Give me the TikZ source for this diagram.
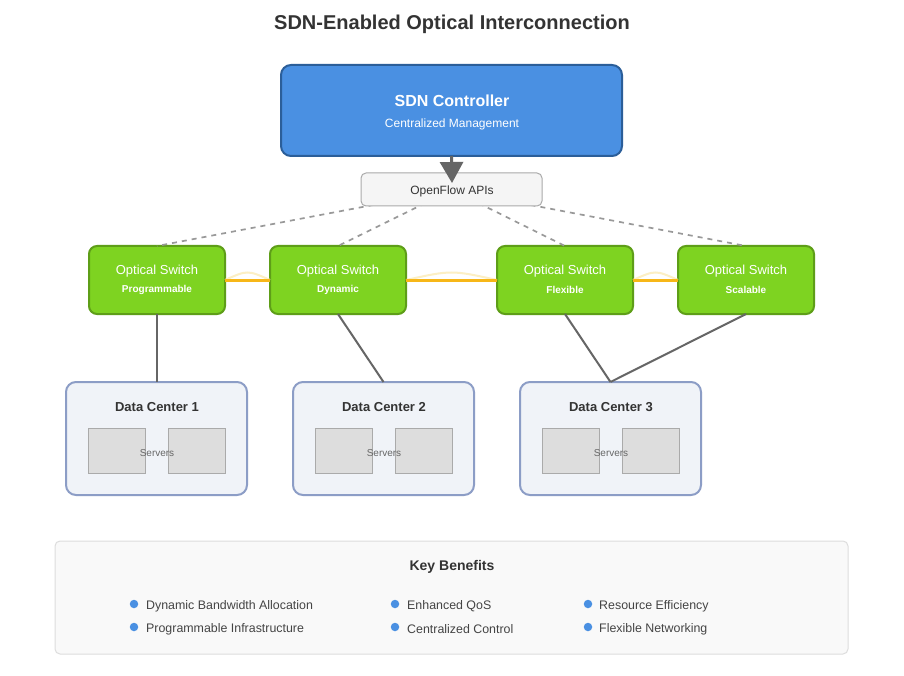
\documentclass[tikz,border=0pt]{standalone}
\usepackage{fontspec}
\setmainfont{Liberation Sans}
\usetikzlibrary{arrows.meta}
\definecolor{ctrlblue}{HTML}{4A90E2}
\definecolor{ctrledge}{HTML}{2B5E99}
\definecolor{swgreen}{HTML}{7ED321}
\definecolor{swedge}{HTML}{5E9E18}
\definecolor{ofill}{HTML}{F5F5F5}
\definecolor{oedge}{HTML}{AAAAAA}
\definecolor{dash}{HTML}{999999}
\definecolor{link}{HTML}{666666}
\definecolor{orangel}{HTML}{F7B718}
\definecolor{glow}{HTML}{FCEFC4}
\definecolor{dcfill}{HTML}{F0F3F8}
\definecolor{dcedge}{HTML}{8C9DC6}
\definecolor{srvfill}{HTML}{DDDDDD}
\definecolor{srvedge}{HTML}{AAAAAA}
\definecolor{kbfill}{HTML}{F9F9F9}
\definecolor{kbedge}{HTML}{DDDDDD}
\definecolor{txt}{HTML}{333333}
\definecolor{itemtxt}{HTML}{444444}
\tikzset{
  box/.style={inner sep=0pt, outer sep=0pt},
  ctrlbox/.style={box, draw=ctrledge, fill=ctrlblue, line width=2pt, rounded corners=10pt, minimum width=341pt, minimum height=91pt},
  apibox/.style={box, draw=oedge, fill=ofill, line width=1pt, rounded corners=5pt, minimum width=181pt, minimum height=33pt},
  swbox/.style={box, draw=swedge, fill=swgreen, line width=2pt, rounded corners=8pt, minimum width=136pt, minimum height=68pt},
  dcbox/.style={box, draw=dcedge, fill=dcfill, line width=2pt, rounded corners=10pt, minimum width=181pt, minimum height=113pt},
  srvbox/.style={box, draw=srvedge, fill=srvfill, line width=1pt, minimum width=57pt, minimum height=45pt},
  kbbox/.style={box, draw=kbedge, fill=kbfill, line width=1pt, rounded corners=5pt, minimum width=793pt, minimum height=113pt},
  lbl/.style={inner sep=0pt, anchor=center, yshift=-1.5pt},
  dashlink/.style={draw=dash, line width=1.7pt, dash pattern=on 5pt off 5pt},
  solidlink/.style={draw=link, line width=2pt},
  optlink/.style={draw=orangel, line width=3pt},
  glowlink/.style={draw=glow, line width=2pt},
  bullet/.style={circle, fill=ctrlblue, inner sep=0pt, minimum size=8.5pt},
  item/.style={inner sep=0pt, anchor=west, yshift=-1.5pt, text=itemtxt, font=\fontsize{12.4}{14}\selectfont},
}
\begin{document}
\begin{tikzpicture}[x=1pt,y=-1pt]
\useasboundingbox (0,0) rectangle (904,676);
\fill[white] (0,0) rectangle (904,676);
% title
\node[lbl, text=txt, font=\bfseries\fontsize{20}{24}\selectfont] (title) at (452,23) {SDN-Enabled Optical Interconnection};
\coordinate (apic) at (452,190);
% switches
\node[swbox] (s1) at (157,280) {};
\node[swbox] (s2) at (338,280) {};
\node[swbox] (s3) at (565,280) {};
\node[swbox] (s4) at (746,280) {};
\draw[dashlink] (apic) -- (s1.north);
\draw[dashlink] (apic) -- (s2.north);
\draw[dashlink] (apic) -- (s3.north);
\draw[dashlink] (apic) -- (s4.north);
% controller
\node[ctrlbox] (sdn) at (451.5,110.5) {};
\node[lbl, text=white, font=\bfseries\fontsize{16}{19}\selectfont] (sdnt) at (452,99) {SDN Controller};
\node[lbl, text=white, font=\fontsize{12}{14}\selectfont] (sdns) at (452,123) {Centralized Management};
% API box
\node[apibox] (api) at (451.5,189.5) {};
\node[lbl, text=txt, font=\fontsize{12}{14}\selectfont] (apit) at (452,190) {OpenFlow APIs};
\coordinate (arrend) at (452,183);
\draw[draw=link, line width=3pt, -{Triangle[width=23pt,length=21pt]}] (sdn.south) -- (arrend);
% optical links
\draw[glowlink] (s1.east) .. controls (247.5,270) .. (s2.west);
\draw[glowlink] (s2.east) .. controls (451.5,270) .. (s3.west);
\draw[glowlink] (s3.east) .. controls (655.5,270) .. (s4.west);
\draw[optlink] (s1.east) -- (s2.west);
\draw[optlink] (s2.east) -- (s3.west);
\draw[optlink] (s3.east) -- (s4.west);
% switch labels
\node[lbl, text=white, font=\fontsize{13}{15}\selectfont] (s1t) at (157,270) {Optical Switch};
\node[lbl, text=white, font=\bfseries\fontsize{10}{12}\selectfont] (s1s) at (157,288) {Programmable};
\node[lbl, text=white, font=\fontsize{13}{15}\selectfont] (s2t) at (338,270) {Optical Switch};
\node[lbl, text=white, font=\bfseries\fontsize{10}{12}\selectfont] (s2s) at (338,288) {Dynamic};
\node[lbl, text=white, font=\fontsize{13}{15}\selectfont] (s3t) at (565,270) {Optical Switch};
\node[lbl, text=white, font=\bfseries\fontsize{10}{12}\selectfont] (s3s) at (565,288) {Flexible};
\node[lbl, text=white, font=\fontsize{13}{15}\selectfont] (s4t) at (746,270) {Optical Switch};
\node[lbl, text=white, font=\bfseries\fontsize{10}{12}\selectfont] (s4s) at (746,288) {Scalable};
% data centers
\node[dcbox] (dc1) at (156.5,438.5) {};
\node[dcbox] (dc2) at (383.5,438.5) {};
\node[dcbox] (dc3) at (610.5,438.5) {};
\draw[solidlink] (s1.south) -- (s1.south |- dc1.north);
\draw[solidlink] (s2.south) -- (dc2.north);
\draw[solidlink] (s3.south) -- (dc3.north);
\draw[solidlink] (s4.south) -- (dc3.north);
\foreach \n/\cx/\k in {dc1/157/1, dc2/384/2, dc3/611/3}{
  \node[lbl, text=txt, font=\bfseries\fontsize{13}{15}\selectfont] (\n t) at (\cx,406) {Data Center \k};
  \node[srvbox] (\n a) at (\cx-40.5,450.5) {};
  \node[srvbox] (\n b) at (\cx+39.5,450.5) {};
  \node[lbl, text=link, font=\fontsize{10}{12}\selectfont] (\n s) at (\cx,452) {Servers};
}
% key benefits
\node[kbbox] (kb) at (451.5,597.5) {};
\node[lbl, text=txt, font=\bfseries\fontsize{14}{17}\selectfont] (kbt) at (452,565) {Key Benefits};
\node[bullet] (b1) at (134,604) {};
\node[item] (i1) at (146,604.5) {Dynamic Bandwidth Allocation};
\node[bullet] (b2) at (134,627) {};
\node[item] (i2) at (146,627.5) {Programmable Infrastructure};
\node[bullet] (b3) at (395,604) {};
\node[item] (i3) at (407,604.5) {Enhanced QoS};
\node[bullet] (b4) at (395,627) {};
\node[item] (i4) at (407,627.5) {Centralized Control};
\node[bullet] (b5) at (588,604) {};
\node[item] (i5) at (599,604.5) {Resource Efficiency};
\node[bullet] (b6) at (588,627) {};
\node[item] (i6) at (599,627.5) {Flexible Networking};
\end{tikzpicture}
\end{document}
